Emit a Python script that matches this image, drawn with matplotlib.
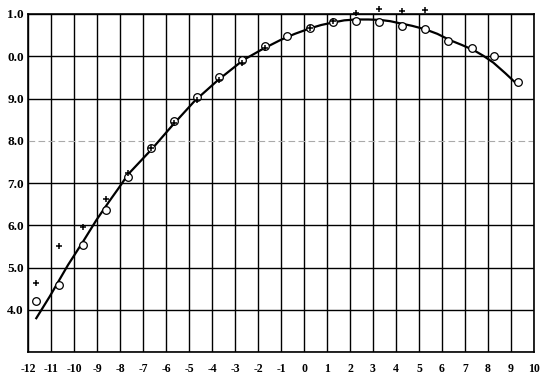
import matplotlib
matplotlib.use('Agg')
import matplotlib.pyplot as plt

# Observed points (circles)
circle_x = [-11.65, -10.67, -9.62, -8.62, -7.64, -6.65, -5.67, -4.67, -3.70, -2.68,
            -1.70, -0.72, 0.26, 1.25, 2.25, 3.26, 4.25, 5.26, 6.25, 7.29, 8.27, 9.30]
circle_y = [4.21, 4.59, 5.53, 6.36, 7.15, 7.84, 8.47, 9.03, 9.52, 9.91,
            10.24, 10.48, 10.66, 10.80, 10.84, 10.80, 10.72, 10.64, 10.37, 10.19, 10.01, 9.40]

# Observed points (crosses)
plus_x = [-11.65, -10.67, -9.62, -8.62, -7.67, -6.65, -5.67, -4.67, -3.70, -2.68,
          -1.70, 0.26, 1.25, 2.25, 3.26, 4.28, 5.26]
plus_y = [4.63, 5.51, 5.95, 6.61, 7.23, 7.84, 8.41, 8.96, 9.44, 9.85,
          10.20, 10.66, 10.83, 11.03, 11.11, 11.07, 11.09]

# Drawn curve
curve_x = [-11.64, -11.06, -10.26, -9.61, -9.03, -8.45, -8.07, -7.64, -6.62, -5.68,
           -4.74, -3.73, -2.64, -1.80, -1.04, -0.40, 0.26, 0.75, 1.27, 1.75, 2.25, 2.80, 3.30,
           3.75, 4.17, 4.70, 5.26, 5.80, 6.35, 6.85, 7.36, 7.80, 8.23, 8.75, 9.30]
curve_y = [3.80, 4.31, 5.06, 5.61, 6.12, 6.58, 6.87, 7.21, 7.80, 8.39,
           8.95, 9.44, 9.91, 10.17, 10.38, 10.53, 10.66, 10.74, 10.80, 10.85, 10.87, 10.87, 10.86,
           10.83, 10.78, 10.72, 10.64, 10.53, 10.38, 10.27, 10.15, 10.01, 9.85, 9.60, 9.32]

x_ticks = list(range(-12, 11))
x_labels = [str(v) for v in x_ticks]
y_ticks = [4, 5, 6, 7, 8, 9, 10, 11]
y_labels = ['4.0', '5.0', '6.0', '7.0', '8.0', '9.0', '0.0', '1.0']

fig = plt.figure(figsize=(5.47, 3.76), dpi=100)
ax = fig.add_axes([28 / 547, 1 - 352 / 376, 506 / 547, 338 / 376])
ax.set_xlim(-12, 10)
ax.set_ylim(3, 11)

# grid
for xv in x_ticks:
    ax.axvline(xv, color='black', lw=1.0, zorder=1)
for yv in range(3, 12):
    if yv == 8:
        ax.axhline(yv, color='#aaaaaa', lw=0.8, ls=(0, (6, 3)), zorder=1)
    else:
        ax.axhline(yv, color='black', lw=1.0, zorder=1)

ax.plot(curve_x, curve_y, color='black', lw=1.6, zorder=3)
ax.plot(circle_x, circle_y, 'o', mfc='white', mec='black', ms=5.5, mew=0.9, zorder=4, clip_on=False)
ax.plot(plus_x, plus_y, '+', color='black', ms=4.5, mew=1.1, zorder=5, clip_on=False)

ax.set_xticks(x_ticks)
ax.set_xticklabels(x_labels, fontfamily='Liberation Serif', fontweight='bold', fontsize=8.5)
ax.set_yticks(y_ticks)
ax.set_yticklabels(y_labels, fontfamily='Liberation Serif', fontweight='bold', fontsize=9.5)
ax.tick_params(length=0, pad=3)
ax.tick_params(axis='x', pad=8)
for s in ax.spines.values():
    s.set_linewidth(1.2)

fig.savefig('out.png', dpi=100)
